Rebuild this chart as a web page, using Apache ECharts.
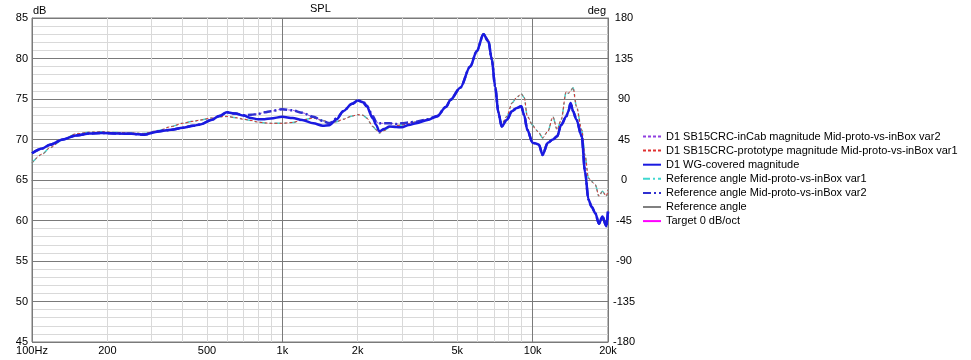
<!DOCTYPE html>
<html>
<head>
<meta charset="utf-8">
<script src="https://cdn.jsdelivr.net/npm/echarts@6/dist/echarts.min.js"></script>
<style>html,body{margin:0;padding:0;background:#fff;}#c{width:971px;height:360px;}</style>
</head>
<body>
<div id="c"></div>
<script>
const freqs = [100,110,118,133,150,170,190,220,250,280,320,360,400,440,470,520,560,600,650,700,750,800,850,900,1000,1100,1200,1330,1450,1540,1650,1750,1900,2000,2100,2170,2300,2370,2440,2550,2680,2850,3000,3200,3430,3800,4150,4500,4700,5140,5630,5980,6360,6660,6870,7080,7300,7520,7890,8270,8650,9000,9250,9520,9990,10300,10600,10950,11500,12050,12530,13000,13620,13900,14180,14500,14960,15700,16200,16700,17200,17800,18400,19000,19700,20000];
const wgCovered = [68.3,68.9,69.35,70.0,70.5,70.75,70.8,70.75,70.7,70.6,71.0,71.2,71.45,71.7,71.85,72.4,72.9,73.35,73.2,72.95,72.65,72.5,72.5,72.6,72.8,72.65,72.4,72.0,71.7,71.75,72.5,73.5,74.4,74.8,74.6,74.1,72.6,71.8,71.0,71.3,71.6,71.55,71.5,71.8,72.0,72.4,72.85,74.0,74.9,76.4,79.0,80.9,83.0,82.1,79.85,76.55,73.3,71.6,72.45,73.5,73.9,74.1,73.0,71.2,69.6,69.5,69.35,68.1,69.6,70.0,70.4,71.8,72.85,73.5,74.5,73.5,72.45,70.4,66.0,62.6,61.7,60.9,59.6,60.5,59.3,61.1];
const protoVar1 = [67.1,68.2,69.0,70.0,70.7,70.9,70.95,70.85,70.8,70.75,71.1,71.6,72.0,72.25,72.4,72.65,72.8,72.85,72.7,72.5,72.35,72.15,72.05,72.0,72.0,72.1,72.4,72.65,72.35,72.1,72.2,72.5,72.9,73.06,73.0,72.65,71.6,71.2,70.8,71.1,71.5,71.7,71.8,71.95,72.2,72.5,72.9,74.0,74.8,76.4,79.0,80.9,83.1,82.3,80.2,76.9,73.6,71.9,72.85,74.5,75.2,75.65,75.2,72.85,71.8,71.2,70.8,70.2,71.0,72.8,71.2,72.45,75.9,75.7,76.0,76.4,74.1,71.2,68.0,65.25,64.8,64.4,63.0,63.6,63.0,63.8];
const inCabVar2 = [68.3,68.9,69.35,70.0,70.5,70.75,70.8,70.75,70.7,70.6,71.0,71.2,71.45,71.7,71.85,72.4,72.9,73.35,73.2,73.0,73.05,73.15,73.35,73.5,73.75,73.6,73.3,72.8,72.3,72.0,72.6,73.5,74.4,74.8,74.7,74.2,72.9,72.2,72.0,72.0,72.0,71.9,72.0,72.1,72.2,72.5,72.9,74.0,74.9,76.4,79.0,80.9,83.0,82.1,79.85,76.55,73.3,71.6,72.45,73.5,73.9,74.1,73.0,71.2,69.6,69.5,69.35,68.1,69.6,70.0,70.4,71.8,72.85,73.5,74.5,73.5,72.45,70.4,66.0,62.6,61.7,60.9,59.6,60.5,59.3,61.1];
const refAngleVar1 = protoVar1;
const refAngleVar2 = inCabVar2;
const refAngle = [];
const target0 = [];
const xLabelValues = [100,200,500,1000,2000,5000,10000,20000];
const xLabelTexts = ['100Hz','200','500','1k','2k','5k','10k','20k'];
const xGridValues = [100,200,300,400,500,600,700,800,900,1000,2000,3000,4000,5000,6000,7000,8000,9000,10000,20000];

const pair = (arr) => arr.map((v, i) => [freqs[i], v]);
const names = {
  v2: 'D1 SB15CRC-inCab magnitude Mid-proto-vs-inBox var2',
  v1: 'D1 SB15CRC-prototype magnitude Mid-proto-vs-inBox var1',
  wg: 'D1 WG-covered magnitude',
  r1: 'Reference angle Mid-proto-vs-inBox var1',
  r2: 'Reference angle Mid-proto-vs-inBox var2',
  r: 'Reference angle',
  t: 'Target 0 dB/oct'
};
const FONT = 'Liberation Sans, Arial, sans-serif';
const FS = 11;
const chart = echarts.init(document.getElementById('c'), null, {renderer: 'canvas'});
const mk = (name, data, color, width, type, z) => ({
  name, type: 'line', data, showSymbol: false, symbol: 'none', smooth: 0.3, smoothMonotone: 'x',
  lineStyle: {color, width, type}, itemStyle: {color}, z, animation: false
});
chart.setOption({
  animation: false,
  textStyle: {fontFamily: FONT},
  title: {text: 'SPL', left: 310, top: 3, padding: 0, textStyle: {fontSize: FS, fontWeight: 'normal', color: '#000', fontFamily: FONT}},
  graphic: [
    {type: 'text', left: 33, top: 5, style: {text: 'dB', fontSize: FS, fill: '#000', fontFamily: FONT}},
    {type: 'text', right: 365, top: 5, style: {text: 'deg', fontSize: FS, fill: '#000', fontFamily: FONT}}
  ],
  grid: {left: 32, top: 18, width: 576, height: 324, show: true, borderColor: '#7a7a7a', borderWidth: 1, backgroundColor: '#fff'},
  legend: {
    orient: 'vertical', left: 642, top: 131, padding: 0, itemWidth: 18, itemHeight: 10, itemGap: 3.1,
    textStyle: {fontSize: FS, color: '#000', fontFamily: FONT},
    itemStyle: {opacity: 0, color: 'rgba(0,0,0,0)', borderColor: 'rgba(0,0,0,0)', borderWidth: 0},
    data: [names.v2, names.v1, names.wg, names.r1, names.r2, names.r, names.t],
    selectedMode: false
  },
  xAxis: {
    type: 'log', logBase: 10, min: 100, max: 20000,
    axisLine: {show: true, lineStyle: {color: '#7a7a7a'}},
    axisTick: {show: false, customValues: xGridValues},
    axisLabel: {customValues: xLabelValues, margin: 3, fontSize: FS, color: '#000',
      formatter: (v) => { const i = xLabelValues.indexOf(Math.round(v)); return i >= 0 ? xLabelTexts[i] : ''; }},
    splitLine: {show: true, lineStyle: {color: ['#7a7a7a','#d9d9d9','#d9d9d9','#d9d9d9','#d9d9d9','#d9d9d9','#d9d9d9','#d9d9d9','#d9d9d9'], width: 1}}
  },
  yAxis: [{
    type: 'value', min: 45, max: 85, interval: 5, position: 'left',
    axisLine: {show: true, lineStyle: {color: '#7a7a7a'}}, axisTick: {show: false},
    axisLabel: {margin: 4, fontSize: FS, color: '#000'},
    splitLine: {show: true, lineStyle: {color: '#7a7a7a'}},
    minorTick: {show: false, splitNumber: 5},
    minorSplitLine: {show: true, lineStyle: {color: '#d9d9d9'}}
  }, {
    type: 'value', min: -180, max: 180, interval: 45, position: 'right',
    axisLine: {show: true, lineStyle: {color: '#7a7a7a'}}, axisTick: {show: false},
    axisLabel: {margin: 16, align: 'center', fontSize: FS, color: '#000'},
    splitLine: {show: false}
  }],
  series: [
    mk(names.r, refAngle, '#808080', 2, 'solid', 1),
    mk(names.t, target0, '#ff00ff', 1, 'solid', 1),
    mk(names.r1, pair(refAngleVar1), '#40d8d0', 1.5, [7,3,2,3], 2),
    mk(names.v1, pair(protoVar1), '#e03030', 1, [3,2], 3),
    mk(names.v2, pair(inCabVar2), '#9040e0', 1, [3,2], 4),
    mk(names.r2, pair(refAngleVar2), '#3030d0', 2.5, [8,3,2,3], 5),
    mk(names.wg, pair(wgCovered), '#1a1ae0', 2.5, 'solid', 6)
  ]
});
</script>
</body>
</html>
